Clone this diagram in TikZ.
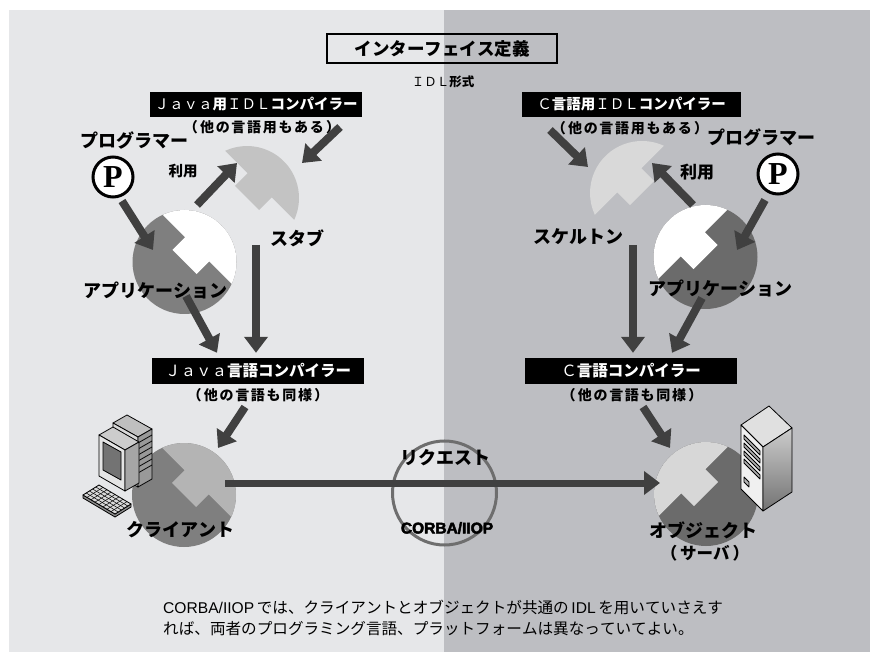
\documentclass[tikz,border=0pt]{standalone}
\usepackage{fontspec}
\setmainfont{Noto Sans CJK JP}[Kerning=Off]
\newfontfamily\latinfont{Liberation Sans}
\newfontfamily\pfont{Liberation Serif}
\newfontfamily\heavyfont[FakeBold=3]{Liberation Sans Bold}
\usetikzlibrary{arrows.meta,calc}

\definecolor{leftbg}{HTML}{E6E7E9}
\definecolor{rightbg}{HTML}{BDBEC2}
\definecolor{arrowgray}{HTML}{404040}
\definecolor{ringgray}{HTML}{6E6E6E}
\definecolor{appgrayL}{HTML}{7F7F7F}
\definecolor{appgrayR}{HTML}{6B6B6B}
\definecolor{stubgray}{HTML}{C3C3C3}
\definecolor{skelgray}{HTML}{D9D9D9}
\definecolor{clientlight}{HTML}{B4B4B4}
\definecolor{objlight}{HTML}{D7D7D7}

% one piece of the split disc (radius 52), flat side with a square tab
\newcommand{\piecepath}{(48.8,18) arc[start angle=20.25,end angle=159.75,radius=52]
  -- (-17,18) -- (-17,0) -- (17,0) -- (17,18) -- cycle}

\tikzset{
  bigarrow/.style={draw=arrowgray, line width=8pt, -{Triangle[length=16pt,width=23pt]}},
  blackbox/.style={fill=black, text=white, inner sep=0pt, minimum height=25pt,
    font=\bfseries\fontsize{14.5}{16}\selectfont},
  note/.style={inner sep=0pt, font=\bfseries\fontsize{14}{16}\selectfont\addfontfeature{LetterSpace=12}},
  biglabel/.style={inner sep=0pt, font=\bfseries\fontsize{18}{20}\selectfont},
  pcircle/.style={circle, draw, line width=3pt, fill=white, minimum size=40pt,
    inner sep=0pt, font=\pfont\bfseries\fontsize{32}{32}\selectfont},
  disc/.style={circle, minimum size=104pt, inner sep=0pt, fill=#1}
}

\begin{document}
\begin{tikzpicture}[x=1pt,y=1pt]
\useasboundingbox (0,0) rectangle (870,-652);

%Backgrounds
\fill[leftbg] (9,-10) rectangle (444,-652);
\fill[rightbg] (444,-10) rectangle (870,-652);

%Ring
\node[circle, draw=ringgray, line width=3pt, minimum size=104pt] (ring) at (444.5,-493) {};

%Discs
\node[disc=appgrayL] (appL) at (184.5,-262) {};
\fill[white, shift={(appL.center)}, rotate=-45] \piecepath;
\node[disc=appgrayR] (appR) at (705.5,-257) {};
\fill[white, shift={(appR.center)}, rotate=45] \piecepath;
\node[disc=appgrayL] (client) at (184,-495) {};
\fill[clientlight, shift={(client.center)}, rotate=-45] \piecepath;
\node[disc=appgrayR] (object) at (706,-494) {};
\fill[objlight, shift={(object.center)}, rotate=45] \piecepath;

%Stub and skeleton
\coordinate (stubL) at (247,-198);
\fill[stubgray, shift={(stubL)}, rotate=-45] \piecepath;
\coordinate (skelR) at (642,-193);
\fill[skelgray, shift={(skelR)}, rotate=45] \piecepath;

%Boxes
\node[draw, line width=2pt, minimum width=230pt, minimum height=29pt, inner sep=0pt,
  font=\bfseries\fontsize{17.5}{20}\selectfont] (idlDef) at (442,-48.5) {インターフェイス定義};
\node[inner sep=0pt, font=\bfseries\fontsize{12.5}{14}\selectfont] (idlForm) at (443,-82) {\textmd{ＩＤＬ}形式};

\node[blackbox, minimum width=212pt] (javaIdl) at (256,-104.5) {\textmd{Ｊａｖａ}用\textmd{ＩＤＬ}コンパイラー};
\node[note] (javaIdlNote) at (262,-127) {（\,他の言語用もある\,）};
\node[blackbox, minimum width=219pt] (cIdl) at (631.5,-104.5) {\textmd{Ｃ}言語用\textmd{ＩＤＬ}コンパイラー};
\node[note] (cIdlNote) at (630,-128) {（\,他の言語用もある\,）};

\node[blackbox, minimum width=212pt, minimum height=26pt, font=\bfseries\fontsize{15.5}{17}\selectfont]
  (javaComp) at (258,-371) {\textmd{Ｊａｖａ}言語コンパイラー};
\node[note] (javaCompNote) at (258,-395) {（\,他の言語も同様\,）};
\node[blackbox, minimum width=212pt, minimum height=26pt, font=\bfseries\fontsize{15.5}{17}\selectfont]
  (cComp) at (631,-371) {\textmd{Ｃ}言語コンパイラー};
\node[note] (cCompNote) at (632,-395) {（\,他の言語も同様\,）};

%Programmers
\node[pcircle] (pL) at (113,-177) {P};
\node[pcircle] (pR) at (778,-174) {P};

%Links
\draw[bigarrow] ($(pL)+(9,-24)$) -- ($(appL)+(-31.5,12)$);
\draw[bigarrow] ($(appL)+(12.5,57)$) -- ($(stubL)+(-10,35)$);
\draw[bigarrow] ($(javaIdl)+(84,-22.5)$) -- ($(stubL)+(55,35)$);
\draw[bigarrow] ($(stubL)+(9,-47)$) -- ($(javaComp.north)+(-2,5)$);
\draw[bigarrow] ($(appL)+(1.5,-34)$) -- ($(javaComp.north)+(-41,5)$);
\draw[bigarrow] ($(javaComp)+(-13,-36)$) -- ($(client)+(34,47)$);
\draw[bigarrow, line width=7pt] ($(client)+(41,12)$) -- ($(object)+(-46,11)$);
\draw[bigarrow] ($(cIdl)+(-81.5,-25.5)$) -- ($(skelR)+(-54,26)$);
\draw[bigarrow] ($(appR)+(-12.5,52)$) -- ($(skelR)+(10,30)$);
\draw[bigarrow] ($(pR)+(-13,-26)$) -- ($(appR)+(31.5,7)$);
\draw[bigarrow] ($(skelR)+(-9,-52)$) -- ($(cComp.north)+(2,5)$);
\draw[bigarrow] ($(appR)+(-3.5,-41)$) -- ($(cComp.north)+(41,5)$);
\draw[bigarrow] ($(cComp)+(12,-36)$) -- ($(object)+(-36,46)$);

%Client PC
\begin{scope}[shift={(83,-415)}, line width=0.8pt, line join=round]
  % tower
  \filldraw[fill=black!25] (30,-8) -- (44,0) -- (69,-14) -- (55,-22) -- cycle;
  \filldraw[fill=black!15] (30,-8) -- (55,-22) -- (55,-72) -- (30,-58) -- cycle;
  \filldraw[fill=black!40] (55,-22) -- (69,-14) -- (69,-64) -- (55,-72) -- cycle;
  \foreach \k in {1,...,6}
    \draw (55,-22-6*\k) -- (69,-14-6*\k);
  % monitor
  \filldraw[fill=black!20] (16,-20) -- (30,-12) -- (56,-27) -- (42,-35) -- cycle;
  \filldraw[fill=black!10] (16,-20) -- (42,-35) -- (42,-76) -- (16,-61) -- cycle;
  \filldraw[fill=black!35] (42,-35) -- (56,-27) -- (56,-68) -- (42,-76) -- cycle;
  \filldraw[fill=black!55] (20,-27) -- (38,-37) -- (38,-65) -- (20,-55) -- cycle;
  % keyboard
  \filldraw[fill=black!45] (0,-80) -- (32,-99) -- (48,-89) -- (48,-92) -- (32,-102) -- (0,-83) -- cycle;
  \filldraw[fill=black!15] (0,-80) -- (16,-70) -- (48,-89) -- (32,-99) -- cycle;
  \foreach \i in {1,...,4}
    \draw[line width=0.5pt] ($(0,-80)+\i/5*(16,10)$) -- ($(32,-99)+\i/5*(16,10)$);
  \foreach \j in {1,...,7}
    \draw[line width=0.5pt] ($(0,-80)+\j/8*(32,-19)$) -- ($(16,-70)+\j/8*(32,-19)$);
\end{scope}

%Server
\begin{scope}[shift={(741,-425)}, line width=0.8pt, line join=round]
  \filldraw[fill=black!12] (0,0) -- (28,19) -- (51,-3) -- (22,-22) -- cycle;
  \filldraw[fill=black!6] (0,0) -- (22,-22) -- (22,-86) -- (0,-64) -- cycle;
  \shade[top color=black!20, bottom color=black!55] (22,-22) -- (51,-3) -- (51,-67) -- (22,-86) -- cycle;
  \draw (22,-22) -- (51,-3) -- (51,-67) -- (22,-86) -- cycle;
  \foreach \v in {10,18,26,34}
    \draw[fill=black!30] (3,-\v) -- (19,-16-\v) -- (19,-20-\v) -- (3,-4-\v) -- cycle;
  \draw[fill=black!30] (3,-52) -- (8,-57) -- (8,-62) -- (3,-57) -- cycle;
\end{scope}

%Labels
\node[biglabel] (progL) at (134,-140) {プログラマー};
\node[biglabel] (progR) at (761,-138) {プログラマー};
\node[inner sep=0pt, font=\bfseries\fontsize{14.5}{16}\selectfont] (useL) at (183,-171) {利用};
\node[inner sep=0pt, font=\bfseries\fontsize{17}{19}\selectfont] (useR) at (697,-172) {利用};
\node[biglabel] (stubLabel) at (297,-238) {スタブ};
\node[biglabel] (skelLabel) at (578,-237) {スケルトン};
\node[biglabel] (appLabelL) at (155,-290) {アプリケーション};
\node[biglabel] (appLabelR) at (720,-288) {アプリケーション};
\node[biglabel] (requestLabel) at (445,-458) {リクエスト};
\node[inner sep=0pt, font=\heavyfont\fontsize{15.5}{17}\selectfont] (corbaLabel) at (447,-528) {CORBA/IIOP};
\node[biglabel] (clientLabel) at (180,-530) {クライアント};
\node[biglabel] (objectLabel) at (703,-530) {オブジェクト};
\node[inner sep=0pt, font=\bfseries\fontsize{16.5}{18}\selectfont] (serverNote) at (705,-553) {（\hspace{3pt}サーバ\hspace{3pt}）};

%Caption
\node[anchor=west, align=left, inner sep=0pt, font=\fontsize{15.6}{21}\selectfont] (caption) at (163,-617.5)
  {{\latinfont CORBA/IIOP}\,では、クライアントとオブジェクトが共通の\,{\latinfont IDL}\,を用いていさえす\\
   れば、両者のプログラミング言語、プラットフォームは異なっていてよい。};

\end{tikzpicture}
\end{document}
